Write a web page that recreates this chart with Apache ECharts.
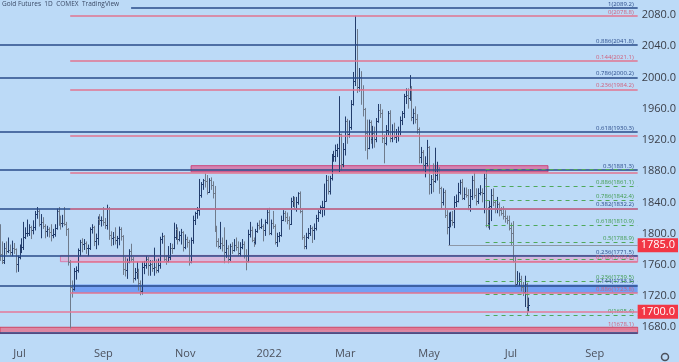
<!DOCTYPE html>
<html><head><meta charset="utf-8">
<script src="https://cdn.jsdelivr.net/npm/echarts@6/dist/echarts.min.js"></script>
<style>html,body{margin:0;padding:0;background:#bcdaf7}#c{width:679px;height:362px}</style>
</head><body><div id="c"></div>
<script>
// ---- axis setup ----
const startDate = '2021-06-17';
const categoryCount = 328;
const holidays = ['2021-07-05','2021-09-06','2021-11-25','2021-12-24','2022-01-17','2022-02-21','2022-04-15','2022-05-30','2022-06-20','2022-07-04','2022-09-05'];
const monthNames = ['Jan','Feb','Mar','Apr','May','Jun','Jul','Aug','Sep','Oct','Nov','Dec'];
const priceTicks = [1680,1720,1760,1800,1840,1880,1920,1960,2000,2040,2080];

// ---- daily OHLC bars: [date, open, high, low, close] ----
const ohlc = [
['2021-06-17',1811,1812,1765,1774],['2021-06-18',1774,1790,1761,1764],['2021-06-21',1766,1788,1761,1782],['2021-06-22',1782,1790,1773,1778],['2021-06-23',1778,1795,1775,1779],['2021-06-24',1779,1786,1772,1776],['2021-06-25',1776,1791,1771,1781],['2021-06-28',1781,1788,1774,1780],['2021-06-29',1780,1781,1750,1761],['2021-06-30',1761,1772,1751,1770],
['2021-07-01',1770,1786,1767,1777],['2021-07-02',1777,1794,1775,1783],['2021-07-06',1783,1815,1779,1796],['2021-07-07',1796,1808,1793,1801],['2021-07-08',1801,1818,1796,1801],['2021-07-09',1801,1812,1797,1808],['2021-07-12',1808,1810,1793,1805],['2021-07-13',1805,1817,1799,1809],['2021-07-14',1809,1829,1804,1825],['2021-07-15',1825,1834,1819,1829],['2021-07-16',1829,1831,1809,1812],['2021-07-19',1812,1825,1794,1815],['2021-07-20',1815,1821,1806,1810],['2021-07-21',1810,1812,1794,1803],['2021-07-22',1803,1810,1796,1806],['2021-07-23',1806,1808,1795,1802],['2021-07-26',1802,1812,1790,1798],['2021-07-27',1798,1806,1794,1799],['2021-07-28',1799,1812,1796,1807],['2021-07-29',1807,1832,1805,1829],['2021-07-30',1829,1834,1810,1817],
['2021-08-02',1817,1823,1805,1813],['2021-08-03',1813,1824,1808,1814],['2021-08-04',1814,1834,1810,1812],['2021-08-05',1812,1815,1797,1806],['2021-08-06',1806,1807,1759,1763],['2021-08-09',1763,1766,1678,1731],['2021-08-10',1731,1740,1718,1729],['2021-08-11',1729,1756,1727,1752],['2021-08-12',1752,1758,1741,1753],['2021-08-13',1753,1781,1750,1779],['2021-08-16',1779,1792,1771,1789],['2021-08-17',1789,1794,1776,1787],['2021-08-18',1787,1793,1779,1788],['2021-08-19',1788,1790,1774,1781],['2021-08-20',1781,1786,1771,1781],['2021-08-23',1781,1808,1779,1806],['2021-08-24',1806,1812,1800,1808],['2021-08-25',1808,1810,1784,1790],['2021-08-26',1790,1800,1780,1794],['2021-08-27',1794,1822,1785,1819],['2021-08-30',1819,1825,1811,1818],['2021-08-31',1818,1822,1809,1818],
['2021-09-01',1818,1834,1810,1815],['2021-09-02',1815,1820,1806,1811],['2021-09-03',1811,1837,1805,1833],['2021-09-07',1833,1834,1792,1798],['2021-09-08',1798,1803,1784,1794],['2021-09-09',1794,1802,1785,1795],['2021-09-10',1795,1808,1786,1792],['2021-09-13',1792,1797,1781,1794],['2021-09-14',1794,1809,1785,1806],['2021-09-15',1806,1808,1791,1797],['2021-09-16',1797,1798,1747,1755],['2021-09-17',1755,1770,1745,1754],['2021-09-20',1754,1768,1742,1764],['2021-09-21',1764,1780,1762,1778],['2021-09-22',1778,1787,1764,1768],['2021-09-23',1768,1770,1737,1743],['2021-09-24',1743,1756,1740,1751],['2021-09-27',1751,1764,1742,1751],['2021-09-28',1751,1755,1727,1737],['2021-09-29',1737,1740,1721,1726],['2021-09-30',1726,1764,1722,1757],
['2021-10-01',1757,1765,1748,1760],['2021-10-04',1760,1771,1755,1768],['2021-10-05',1768,1770,1746,1760],['2021-10-06',1760,1766,1746,1761],['2021-10-07',1761,1766,1751,1756],['2021-10-08',1756,1782,1746,1757],['2021-10-11',1757,1767,1749,1754],['2021-10-12',1754,1768,1750,1760],['2021-10-13',1760,1796,1755,1793],['2021-10-14',1793,1801,1787,1797],['2021-10-15',1797,1798,1765,1768],['2021-10-18',1768,1772,1760,1765],['2021-10-19',1765,1784,1763,1770],['2021-10-20',1770,1788,1766,1782],['2021-10-21',1782,1787,1774,1781],['2021-10-22',1781,1814,1780,1796],['2021-10-25',1796,1812,1792,1806],['2021-10-26',1806,1808,1786,1793],['2021-10-27',1793,1803,1790,1798],['2021-10-28',1798,1806,1786,1802],['2021-10-29',1802,1803,1777,1783],
['2021-11-01',1783,1799,1780,1793],['2021-11-02',1793,1796,1782,1789],['2021-11-03',1789,1792,1759,1764],['2021-11-04',1764,1795,1762,1792],['2021-11-05',1792,1823,1787,1818],['2021-11-08',1818,1828,1811,1827],['2021-11-09',1827,1834,1819,1830],['2021-11-10',1830,1870,1823,1849],['2021-11-11',1849,1866,1846,1863],['2021-11-12',1863,1870,1856,1869],['2021-11-15',1869,1877,1859,1867],['2021-11-16',1867,1875,1850,1853],['2021-11-17',1853,1871,1852,1869],['2021-11-18',1869,1872,1856,1862],['2021-11-19',1862,1867,1845,1852],['2021-11-22',1852,1861,1802,1805],['2021-11-23',1805,1810,1783,1791],['2021-11-24',1791,1794,1781,1784],['2021-11-26',1784,1815,1780,1788],['2021-11-29',1788,1795,1777,1785],['2021-11-30',1785,1808,1762,1776],
['2021-12-01',1776,1792,1769,1782],['2021-12-02',1782,1785,1762,1768],['2021-12-03',1768,1787,1765,1784],['2021-12-06',1784,1789,1774,1779],['2021-12-07',1779,1793,1777,1785],['2021-12-08',1785,1795,1778,1783],['2021-12-09',1783,1790,1771,1775],['2021-12-10',1775,1789,1771,1783],['2021-12-13',1783,1793,1780,1787],['2021-12-14',1787,1790,1768,1772],['2021-12-15',1772,1780,1753,1765],['2021-12-16',1765,1805,1763,1799],['2021-12-17',1799,1815,1795,1805],['2021-12-20',1805,1809,1789,1792],['2021-12-21',1792,1795,1783,1789],['2021-12-22',1789,1806,1786,1803],['2021-12-23',1803,1814,1801,1811],['2021-12-27',1811,1817,1805,1809],['2021-12-28',1809,1819,1806,1810],['2021-12-29',1810,1812,1790,1805],['2021-12-30',1805,1818,1797,1815],['2021-12-31',1815,1832,1812,1828],
['2022-01-03',1828,1833,1798,1801],['2022-01-04',1801,1818,1798,1814],['2022-01-05',1814,1829,1806,1810],['2022-01-06',1810,1812,1786,1789],['2022-01-07',1789,1801,1783,1797],['2022-01-10',1797,1802,1789,1798],['2022-01-11',1798,1823,1796,1818],['2022-01-12',1818,1830,1816,1826],['2022-01-13',1826,1829,1815,1821],['2022-01-14',1821,1827,1812,1817],['2022-01-18',1817,1822,1805,1812],['2022-01-19',1812,1846,1811,1842],['2022-01-20',1842,1848,1834,1842],['2022-01-21',1842,1847,1830,1831],['2022-01-24',1831,1847,1828,1841],['2022-01-25',1841,1853,1837,1852],['2022-01-26',1852,1854,1826,1829],['2022-01-27',1829,1830,1792,1795],['2022-01-28',1795,1798,1780,1784],['2022-01-31',1784,1801,1780,1795],
['2022-02-01',1795,1807,1793,1801],['2022-02-02',1801,1811,1797,1807],['2022-02-03',1807,1809,1788,1804],['2022-02-04',1804,1813,1792,1807],['2022-02-07',1807,1824,1804,1820],['2022-02-08',1820,1830,1815,1828],['2022-02-09',1828,1836,1825,1834],['2022-02-10',1834,1842,1821,1834],['2022-02-11',1834,1864,1823,1842],['2022-02-14',1842,1875,1841,1869],['2022-02-15',1869,1874,1850,1855],['2022-02-16',1855,1874,1850,1871],['2022-02-17',1871,1902,1868,1899],['2022-02-18',1899,1906,1892,1900],['2022-02-22',1900,1914,1892,1907],['2022-02-23',1907,1915,1898,1910],['2022-02-24',1910,1976,1879,1927],['2022-02-25',1927,1928,1881,1889],['2022-02-28',1889,1916,1885,1908],
['2022-03-01',1908,1950,1900,1944],['2022-03-02',1944,1947,1915,1928],['2022-03-03',1928,1945,1923,1936],['2022-03-04',1936,1971,1933,1966],['2022-03-07',1966,2007,1964,1995],['2022-03-08',1995,2079,1989,2043],['2022-03-09',2043,2062,1980,1988],['2022-03-10',1988,2012,1982,2000],['2022-03-11',2000,2008,1965,1985],['2022-03-14',1985,1990,1950,1960],['2022-03-15',1960,1961,1906,1929],['2022-03-16',1929,1946,1895,1909],['2022-03-17',1909,1946,1908,1943],['2022-03-18',1943,1945,1915,1921],['2022-03-21',1921,1938,1909,1929],['2022-03-22',1929,1937,1910,1921],['2022-03-23',1921,1948,1917,1944],['2022-03-24',1944,1966,1942,1958],['2022-03-25',1958,1966,1948,1954],['2022-03-28',1954,1959,1916,1923],['2022-03-29',1923,1927,1890,1916],['2022-03-30',1916,1939,1913,1933],['2022-03-31',1933,1957,1926,1954],
['2022-04-01',1954,1958,1917,1923],['2022-04-04',1923,1940,1917,1932],['2022-04-05',1932,1942,1920,1924],['2022-04-06',1924,1934,1916,1925],['2022-04-07',1925,1937,1918,1932],['2022-04-08',1932,1950,1926,1945],['2022-04-11',1945,1957,1939,1954],['2022-04-12',1954,1979,1948,1976],['2022-04-13',1976,1986,1966,1977],['2022-04-14',1977,1986,1960,1974],['2022-04-18',1974,2003,1970,1986],['2022-04-19',1986,1989,1944,1949],['2022-04-20',1949,1960,1940,1955],['2022-04-21',1955,1963,1941,1947],['2022-04-22',1947,1953,1928,1934],['2022-04-25',1934,1936,1890,1898],['2022-04-26',1898,1911,1890,1904],['2022-04-27',1904,1907,1881,1888],['2022-04-28',1888,1899,1872,1891],['2022-04-29',1891,1920,1886,1911],
['2022-05-02',1911,1912,1850,1863],['2022-05-03',1863,1875,1851,1870],['2022-05-04',1870,1890,1853,1868],['2022-05-05',1868,1910,1865,1875],['2022-05-06',1875,1892,1868,1883],['2022-05-09',1883,1885,1851,1858],['2022-05-10',1858,1860,1832,1841],['2022-05-11',1841,1858,1836,1853],['2022-05-12',1853,1856,1820,1824],['2022-05-13',1824,1830,1799,1808],['2022-05-16',1808,1827,1785,1814],['2022-05-17',1814,1828,1808,1818],['2022-05-18',1818,1829,1810,1815],['2022-05-19',1815,1848,1807,1841],['2022-05-20',1841,1850,1834,1842],['2022-05-23',1842,1865,1840,1853],['2022-05-24',1853,1869,1850,1866],['2022-05-25',1866,1870,1843,1846],['2022-05-26',1846,1859,1843,1851],['2022-05-27',1851,1859,1846,1850],['2022-05-31',1850,1857,1830,1837],
['2022-06-01',1837,1857,1828,1848],['2022-06-02',1848,1874,1843,1869],['2022-06-03',1869,1878,1845,1850],['2022-06-06',1850,1858,1836,1842],['2022-06-07',1842,1858,1838,1852],['2022-06-08',1852,1862,1849,1853],['2022-06-09',1853,1858,1840,1852],['2022-06-10',1852,1877,1826,1871],['2022-06-13',1871,1882.4,1808,1831],['2022-06-14',1831,1834,1807,1813],['2022-06-15',1813,1842,1805,1835],['2022-06-16',1835,1857,1816,1850],['2022-06-17',1850,1858,1835,1840],['2022-06-21',1840,1843,1826,1832],['2022-06-22',1832,1847,1826,1838],['2022-06-23',1838,1840,1822,1830],['2022-06-24',1830,1834,1823,1826],['2022-06-27',1826,1835,1818,1823],['2022-06-28',1823,1830,1814,1820],['2022-06-29',1820,1823,1812,1817],['2022-06-30',1817,1823,1804,1807],
['2022-07-01',1807,1814,1784,1801],['2022-07-05',1801,1816,1763,1765],['2022-07-06',1765,1770,1732,1736],['2022-07-07',1736,1752,1735,1739],['2022-07-08',1739,1750,1733,1742],['2022-07-11',1742,1746,1726,1731],['2022-07-12',1731,1738,1720,1725],['2022-07-13',1725,1746,1706,1735],['2022-07-14',1735,1737,1695.4,1705],['2022-07-15',1706,1718,1700,1708]
];

// ---- drawings (Fibonacci retracements, zones, levels) ----
const blueFib = [['1',2089.2,1],['0.886',2041.8,1],['0.786',2000.2,1],['0.618',1930.3,1],['0.5',1881.3,1],['0.382',1832.2,1],['0.236',1771.5,1],['0.144',1733.3,1],['0',1673.4,0]];
const redFibStart = '2021-08-09';
const redFib = [['0',2078.8,1],['0.144',2021.1,1],['0.236',1984.2,1],['0.382',1925.7,0],['0.5',1878.4,0],['0.618',1831.2,0],['0.786',1763.9,1],['0.886',1723.8,1],['1',1678.1,1]];
const greenFibStart = '2022-06-13';
const greenFib = [['1',1882.4,0],['0.886',1861.1,1],['0.786',1842.4,1],['0.618',1810.9,1],['0.5',1788.9,1],['0.382',1766.8,0],['0.236',1739.5,1],['0.144',1722.3,0],['0',1695.4,1]];
const zones = [
  {name:'pink', from:'2021-11-04', to:'2022-07-29', low:1879, high:1887},
  {name:'lavender', from:'2021-08-02', to:null, low:1764, high:1772},
  {name:'blue', from:'2021-08-10', to:null, low:1724, high:1734.7},
  {name:'red', from:null, to:null, low:1672, high:1680}
];
const levelFull = 1700.0;
const levelRayStart = '2022-05-16';
const levelRay = 1785.0;

// ---- build categories (trading days) ----
const categories = [];
(function(){
  const d = new Date(startDate + 'T00:00:00Z');
  while (categories.length < categoryCount) {
    const wd = d.getUTCDay();
    const s = d.toISOString().slice(0,10);
    if (wd !== 0 && wd !== 6 && holidays.indexOf(s) < 0) categories.push(s);
    d.setUTCDate(d.getUTCDate() + 1);
  }
})();
const idxOf = s => categories.indexOf(s);
const lastIdx = categories.length - 1;
const labelText = {};
categories.forEach((s, i) => {
  const m = +s.slice(5,7), prev = i > 0 ? +categories[i-1].slice(5,7) : m;
  if (i > 0 && m !== prev && m % 2 === 1) labelText[i] = m === 1 ? s.slice(0,4) : monthNames[m-1];
});

const BG = '#bcdaf7';
const UP = '#233d6c', DOWN = '#6f7b8c';
const BLUE = '#2a4b8a', RED = '#e27591', GREEN = '#4fa85a';

const barData = ohlc.map(r => [idxOf(r[0]), r[1], r[2], r[3], r[4]]);

function renderBar(params, api) {
  const i = api.value(0);
  const pO = api.coord([i, api.value(1)]);
  const pH = api.coord([i, api.value(2)]);
  const pL = api.coord([i, api.value(3)]);
  const pC = api.coord([i, api.value(4)]);
  const x = Math.round(pO[0]) + 0.5;
  const color = api.value(4) >= api.value(1) ? UP : DOWN;
  const st = {stroke: color, lineWidth: 1};
  return {type:'group', children:[
    {type:'line', shape:{x1:x, y1:pH[1], x2:x, y2:pL[1]}, style:st},
    {type:'line', shape:{x1:x-1.5, y1:Math.round(pO[1])+0.5, x2:x, y2:Math.round(pO[1])+0.5}, style:st},
    {type:'line', shape:{x1:x, y1:Math.round(pC[1])+0.5, x2:x+1.5, y2:Math.round(pC[1])+0.5}, style:st}
  ]};
}

function fibLines(list, start, color, labelColor) {
  return list.map(f => {
    const a = {coord:[start, f[1]], label:{show: !!f[2], formatter: f[0] + '(' + f[1].toFixed(1) + ')', color: labelColor}};
    return [a, {coord:[lastIdx, f[1]]}];
  });
}

const zoneStyles = {
  pink: {color:'rgba(226,72,130,0.6)', borderColor:'rgba(205,60,115,0.9)', borderWidth:1},
  lavender: {color:'rgba(242,150,195,0.5)', borderColor:'rgba(220,110,160,0.85)', borderWidth:1},
  blue: {color:'rgba(72,124,242,0.62)', borderWidth:0},
  red: {color:'rgba(238,96,122,0.68)', borderColor:'rgba(205,60,90,0.9)', borderWidth:1}
};

const fibLabel = {show:true, position:'insideEndTop', fontSize:6, distance:[4,1], fontFamily:'Open Sans'};

const option = {
  animation: false,
  backgroundColor: BG,
  textStyle: {fontFamily: 'Open Sans, Noto Sans, sans-serif'},
  title: {
    text: 'Gold Futures  1D  COMEX  TradingView',
    left: 0, top: 0, padding: [1, 12, 2, 2],
    backgroundColor: BG,
    textStyle: {fontSize: 6.5, fontWeight: 'normal', color: '#3b4a66', fontFamily: 'Open Sans'}
  },
  grid: {left: 0, right: 32, top: 0, bottom: 22},
  xAxis: {
    type: 'category', data: categories, boundaryGap: false,
    axisLine: {show: false}, axisTick: {show: false}, splitLine: {show: false},
    axisLabel: {
      interval: (i) => labelText[i] !== undefined,
      formatter: (v, i) => labelText[i] || '',
      color: '#4b505c', fontSize: 11, margin: 8
    }
  },
  yAxis: {
    type: 'value', position: 'right', min: 1663.7, max: 2099.2, splitNumber: 22,
    axisLine: {show: false}, axisTick: {show: false}, splitLine: {show: false},
    axisLabel: {
      formatter: v => priceTicks.some(t => Math.abs(t - v) < 1e-6) ? v.toFixed(1) : '',
      color: '#3a3e48', fontSize: 11, margin: 4, showMinLabel: false, showMaxLabel: false
    }
  },
  series: [
    {
      type: 'line', data: [], silent: true,
      markArea: {
        silent: true,
        data: zones.map(z => [
          {coord: [z.from ? idxOf(z.from) : 0, z.high], itemStyle: zoneStyles[z.name]},
          {coord: [z.to ? idxOf(z.to) : lastIdx, z.low]}
        ])
      }
    },
    {
      type: 'custom', renderItem: renderBar, data: barData, z: 3,
      encode: {x: 0, y: [1, 2, 3, 4]}
    },
    {
      type: 'line', data: [], silent: true,
      markLine: {
        silent: true, symbol: ['none', 'none'], z: 4,
        lineStyle: {color: BLUE, width: 1.5, type: 'solid'},
        label: fibLabel,
        data: fibLines(blueFib, 0, BLUE, BLUE)
      }
    },
    {
      type: 'line', data: [], silent: true,
      markLine: {
        silent: true, symbol: ['none', 'none'], z: 4,
        lineStyle: {color: RED, width: 1.5, type: 'solid'},
        label: fibLabel,
        data: fibLines(redFib, idxOf(redFibStart), RED, '#d0607c')
      }
    },
    {
      type: 'line', data: [], silent: true,
      markLine: {
        silent: true, symbol: ['none', 'none'], z: 4,
        lineStyle: {color: GREEN, width: 1, type: [4, 4]},
        label: fibLabel,
        data: fibLines(greenFib, idxOf(greenFibStart), GREEN, '#3f9a4c')
      }
    },
    {
      type: 'line', data: [], silent: true,
      markLine: {
        silent: true, symbol: ['none', 'none'], z: 6,
        data: [
          {yAxis: levelFull, lineStyle: {color: '#e4799a', width: 1.5, type: 'solid'},
           label: {show: true, position: 'end', distance: 0, formatter: levelFull.toFixed(1), color: '#fff', backgroundColor: '#f23645', fontSize: 11, padding: [2, 3, 1, 3], fontFamily: 'Open Sans'}},
          [{coord: [idxOf(levelRayStart), levelRay], lineStyle: {color: '#8d97a6', width: 1, type: 'solid'},
            label: {show: true, position: 'end', distance: 0, formatter: levelRay.toFixed(1), color: '#fff', backgroundColor: '#f23645', fontSize: 11, padding: [2, 3, 1, 3], fontFamily: 'Open Sans'}},
           {coord: [lastIdx, levelRay]}]
        ]
      }
    }
  ],
  graphic: [
    {type: 'circle', left: 659, top: 351, shape: {r: 3.5}, style: {fill: 'none', stroke: '#4b505c', lineWidth: 1.5}}
  ]
};

const chart = echarts.init(document.getElementById('c'), null, {renderer: 'canvas'});
chart.setOption(option);
</script>
</body></html>
